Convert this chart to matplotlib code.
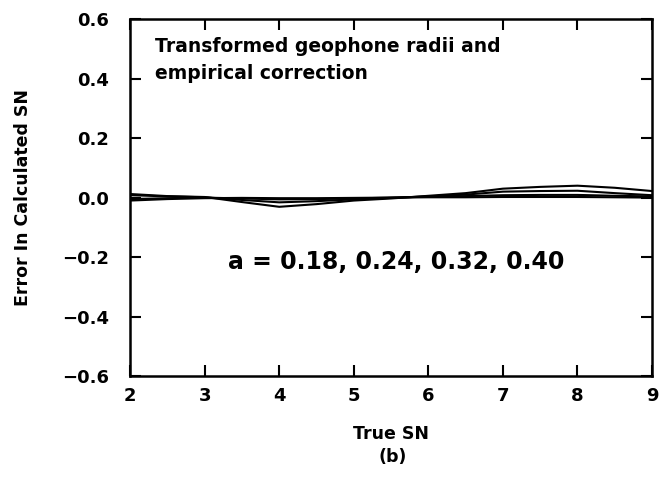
import matplotlib
matplotlib.use("Agg")
import matplotlib.pyplot as plt

true_sn = [2, 2.5, 3, 3.5, 4, 4.5, 5, 5.5, 6, 6.5, 7, 7.5, 8, 8.5, 9]
err_a018 = [0.012, 0.005, 0.002, -0.015, -0.031, -0.022, -0.010, -0.003, 0.006, 0.015, 0.030, 0.036, 0.040, 0.033, 0.022]
err_a024 = [0.008, 0.004, 0.001, -0.008, -0.016, -0.012, -0.006, -0.001, 0.004, 0.010, 0.020, 0.022, 0.023, 0.015, 0.008]
err_a032 = [-0.005, -0.002, 0.000, -0.003, -0.006, -0.005, -0.003, 0.000, 0.003, 0.005, 0.008, 0.009, 0.009, 0.006, 0.004]
err_a040 = [-0.010, -0.005, -0.002, -0.001, -0.002, -0.002, -0.001, 0.000, 0.001, 0.001, 0.002, 0.002, 0.002, 0.001, 0.000]

xticks = [2, 3, 4, 5, 6, 7, 8, 9]
yticks = [-0.6, -0.4, -0.2, 0.0, 0.2, 0.4, 0.6]
ytick_labels = ["\u22120.6", "\u22120.4", "\u22120.2", "0.0", "0.2", "0.4", "0.6"]

plt.rcParams['font.family'] = ['DejaVu Sans']
plt.rcParams['font.weight'] = 'bold'

fig = plt.figure(figsize=(6.64, 4.79), dpi=100)
ax = fig.add_axes([0.196, 0.215, 0.786, 0.745])

for ys in (err_a018, err_a024, err_a032, err_a040):
    ax.plot(true_sn, ys, color='black', lw=1.5)

ax.set_xlim(2, 9)
ax.set_ylim(-0.6, 0.6)
ax.set_xticks(xticks)
ax.set_xticklabels([str(t) for t in xticks])
ax.set_yticks(yticks)
ax.set_yticklabels(ytick_labels)
ax.tick_params(axis='both', direction='in', length=8, width=1.5, top=True, right=True,
               labelsize=13)
ax.tick_params(axis='y', pad=15)
ax.tick_params(axis='x', pad=8)
for s in ax.spines.values():
    s.set_linewidth(1.8)

ax.set_xlabel("True SN", fontsize=12.5, fontweight='bold', labelpad=14)
ax.set_ylabel("Error In Calculated SN", fontsize=12.5, fontweight='bold', labelpad=22)

ax.text(0.048, 0.95, "Transformed geophone radii and\nempirical correction",
        transform=ax.transAxes, fontsize=13.5, fontweight='bold', va='top', ha='left',
        linespacing=1.5)
ax.text(3.31, -0.215, "a = 0.18, 0.24, 0.32, 0.40", fontsize=17, fontweight='bold',
        va='center', ha='left')

fig.text(0.592, 0.045, "(b)", fontsize=12.5, fontweight='bold', ha='center', va='center')

fig.savefig("out.png", dpi=100)
